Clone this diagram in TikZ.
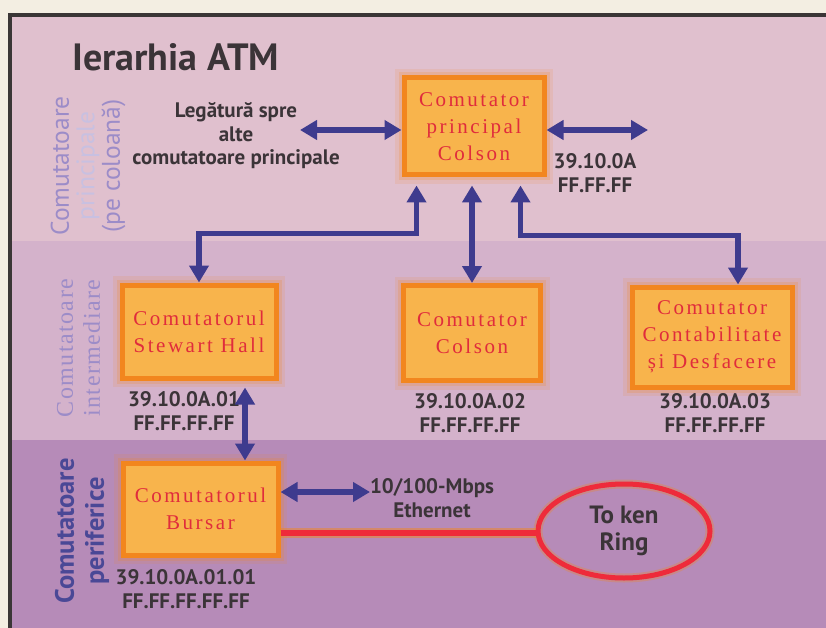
\documentclass[tikz,border=0pt]{standalone}
\usepackage{fontspec}
\setmainfont{Liberation Serif}
\setsansfont{PT Sans}
\newfontfamily\boxfont[LetterSpace=12]{Liberation Serif}
\newfontfamily\lblfont{PT Sans}
\usetikzlibrary{arrows.meta,calc,shapes.geometric}

\definecolor{cream}{HTML}{F3EEE2}
\definecolor{frameline}{HTML}{3A3636}
\definecolor{bandtop}{HTML}{E0C0CE}
\definecolor{bandmid}{HTML}{D4B2CB}
\definecolor{bandbot}{HTML}{B68BB8}
\definecolor{boxedge}{HTML}{F2861E}
\definecolor{boxfill}{HTML}{F8B44C}
\definecolor{boxtext}{HTML}{E02C3C}
\definecolor{linkblue}{HTML}{3E3B8E}
\definecolor{labtext}{HTML}{3B3438}
\definecolor{sidelight}{HTML}{9C8CC8}
\definecolor{sidedark}{HTML}{4A4896}
\definecolor{ringred}{HTML}{EE2B3A}

\tikzset{
  switchbox/.style={rectangle, draw=boxedge, line width=5pt, fill=boxfill,
    inner sep=0pt, align=center, text=boxtext,
    font=\boxfont\fontsize{21}{27}\selectfont,
    preaction={draw=boxedge, line width=18pt, opacity=0.12},
    preaction={draw=boxedge, line width=11pt, opacity=0.2}},
  link/.style={draw=linkblue, line width=5.5pt,
    {Triangle[length=17pt,width=19pt]}-{Triangle[length=17pt,width=19pt]}},
  addr/.style={align=center, text=labtext,
    font=\lblfont\bfseries\fontsize{21}{23.5}\selectfont},
  sidelabel/.style={rotate=90, align=center, inner sep=0pt}
}

\begin{document}
\begin{tikzpicture}[x=1pt,y=-1pt]
  % page and framed panel with three bands
  \fill[cream] (0,0) rectangle (826,628);
  \useasboundingbox (0,0) rectangle (826,628);
  \fill[bandtop] (10,15) rectangle (826,241);
  \fill[bandmid] (10,241) rectangle (826,440);
  \fill[bandbot] (10,440) rectangle (826,628);
  \draw[frameline, line width=3.5pt] (826,15) -- (10,15) -- (10,628);

  % title
  \node[anchor=base west, text=labtext, inner sep=0pt,
        font=\sffamily\bfseries\fontsize{38}{40}\selectfont] (title) at (72,71) {Ierarhia ATM};

  % side labels for the three levels
  \node[sidelabel, text=sidelight, font=\sffamily\fontsize{25.5}{25.5}\selectfont] (lvtop) at (88,166)
    {Comutatoare\\{\color{sidelight!55}principale}\\(pe coloană)};
  \node[sidelabel, text=sidelight, font=\rmfamily\addfontfeatures{LetterSpace=6}\fontsize{24}{27}\selectfont] (lvmid) at (78.5,348)
    {Comutatoare\\intermediare};
  \node[sidelabel, text=sidedark, font=\sffamily\bfseries\fontsize{26.5}{30}\selectfont] (lvbot) at (82,531)
    {Comutatoare\\periferice};

  % switches
  \node[switchbox, minimum width=140pt, minimum height=97pt] (prin) at (474,126.5)
    {Comutator\\principal\\Colson};
  \node[switchbox, minimum width=154pt, minimum height=93pt] (stew) at (199,331.5)
    {Comutatorul\\Stewart Hall};
  \node[switchbox, minimum width=137pt, minimum height=95pt] (cols) at (472,333)
    {Comutator\\Colson};
  \node[switchbox, minimum width=160pt, minimum height=100pt] (cont) at (712,337)
    {Comutator\\Contabilitate\\și Desfacere};
  \node[switchbox, minimum width=155pt, minimum height=92pt] (burs) at (200.5,509)
    {Comutatorul\\Bursar};

  % Token Ring
  \node[ellipse, draw=ringred, line width=5pt, minimum width=172pt, minimum height=94pt,
        inner sep=0pt, align=center, text=labtext,
        font=\lblfont\bfseries\fontsize{25}{27}\selectfont,
        preaction={draw=boxedge, line width=9pt, opacity=0.3}] (tr) at (624,531)
    {To ken\\Ring};

  % text labels
  \node[addr] (other) at (236,136) {Legătură spre\\alte\\comutatoare principale};
  \node[addr] (aprin) at (595,173) {39.10.0A\\FF.FF.FF};
  \node[addr] (astew) at (184,411) {39.10.0A.01\\FF.FF.FF.FF};
  \node[addr] (acols) at (470,413) {39.10.0A.02\\FF.FF.FF.FF};
  \node[addr] (acont) at (715,413) {39.10.0A.03\\FF.FF.FF.FF};
  \node[addr] (eth)   at (432,498) {10/100-Mbps\\Ethernet};
  \node[addr] (aburs) at (186,589) {39.10.0A.01.01\\FF.FF.FF.FF.FF};

  % free ends of the side links and helper points
  \coordinate (otherL) at (300,130);
  \coordinate (otherR) at (648,130);
  \coordinate (ethR) at (370,492);
  \coordinate (pb) at ($(prin.south)+(0,8)$);
  \coordinate (sb) at ($(stew.south)+(46,7)$);
  \coordinate (ringL) at ($(burs.east)+(0,24)$);

  % connectors
  \draw[link] (otherL) -- (otherL -| prin.west);
  \draw[link] (otherR -| prin.east) -- (otherR);
  \draw[link] ($(prin.south west)+(15,8)$) |- ($(stew.north)+(0,-49)$) -- (stew.north);
  \draw[link] (cols.north |- pb) -- (cols.north);
  \draw[link] ($(prin.south east)+(-26,8)$) |- ($(cont.north)+(26,-49)$) -- ($(cont.north)+(26,0)$);
  \draw[link] (sb) -- (sb |- burs.north);
  \draw[link] (ethR -| burs.east) -- (ethR);

  % Token Ring attachment
  \draw[boxedge, line width=10pt, opacity=0.5] (ringL) -- (tr.west |- ringL);
  \draw[ringred, line width=6pt] (ringL) -- (tr.west |- ringL);
\end{tikzpicture}
\end{document}
